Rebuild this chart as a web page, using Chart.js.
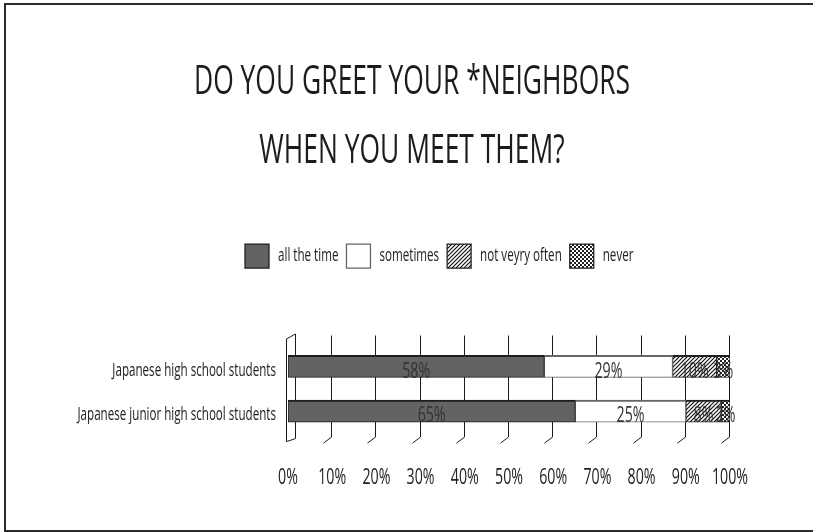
<!DOCTYPE html>
<html>
<head>
<meta charset="utf-8">
<title>Do you greet your neighbors</title>
<script src="https://cdn.jsdelivr.net/npm/chart.js@4.4.1/dist/chart.umd.min.js"></script>
<style>
  html, body { margin: 0; padding: 0; background: #fff; overflow: hidden; }
  #frame {
    position: absolute; left: 4px; top: 3px; width: 900px; height: 525px;
    border: 2px solid #2b2b2b; pointer-events: none;
  }
  #wrap { position: absolute; left: 0; top: 0; width: 813px; height: 532px; }
</style>
</head>
<body>
<div id="wrap"><canvas id="greetChart"></canvas></div>
<div id="frame"></div>
<script>
// data
const groups = ["Japanese high school students", "Japanese junior high school students"];
const answers = ["all the time", "sometimes", "not veyry often", "never"];
const allTheTime = [58, 65];
const sometimes = [29, 25];
const notVeryOften = [10, 8];
const never = [3, 2];
const tickValues = [0, 10, 20, 30, 40, 50, 60, 70, 80, 90, 100];

const FONT = "'Open Sans', 'Noto Sans', sans-serif";
const SQUEEZE = 0.645; // the original uses a very narrow face

// ---- fill patterns for the two hatched series ----
function makePattern(draw, size) {
  const c = document.createElement("canvas");
  c.width = size;
  c.height = size;
  const g = c.getContext("2d");
  g.fillStyle = "#fff";
  g.fillRect(0, 0, size, size);
  draw(g, size);
  return g.createPattern(c, "repeat");
}

const hatch = makePattern((g, s) => {
  g.strokeStyle = "#111";
  g.lineWidth = 1.2;
  g.beginPath();
  g.moveTo(-1, s + 1); g.lineTo(s + 1, -1);
  g.moveTo(-1, 1); g.lineTo(1, -1);
  g.moveTo(s - 1, s + 1); g.lineTo(s + 1, s - 1);
  g.stroke();
}, 4);

const checker = makePattern((g) => {
  g.fillStyle = "#222";
  g.fillRect(0, 0, 2, 2);
  g.fillRect(2, 2, 2, 2);
}, 4);

// ---- condensed text: squeeze every string the chart writes ----
const canvas = document.getElementById("greetChart");
const ctx = canvas.getContext("2d");
const origFill = ctx.fillText.bind(ctx);
const origMeasure = ctx.measureText.bind(ctx);
ctx.fillText = function (text, x, y) {
  ctx.save();
  ctx.translate(x, y);
  ctx.scale(SQUEEZE, 1);
  origFill(text, 0, 0);
  ctx.restore();
};
ctx.measureText = function (text) {
  const m = origMeasure(text);
  return {
    width: m.width * SQUEEZE,
    actualBoundingBoxAscent: m.actualBoundingBoxAscent,
    actualBoundingBoxDescent: m.actualBoundingBoxDescent,
    actualBoundingBoxLeft: m.actualBoundingBoxLeft * SQUEEZE,
    actualBoundingBoxRight: m.actualBoundingBoxRight * SQUEEZE,
  };
};

// 3D-ish grid: back lines with a little floor slant, plus the left wall
const gridPlugin = {
  id: "grid3d",
  beforeDatasetsDraw(chart) {
    const { ctx, chartArea: a, scales: { x } } = chart;
    ctx.save();
    ctx.strokeStyle = "#1a1a1a";
    ctx.lineWidth = 1;
    ctx.beginPath();
    tickValues.forEach((v) => {
      const px = Math.round(x.getPixelForValue(v)) - 0.5;
      if (v === 0) {
        ctx.moveTo(px - 1, a.top - 5);
        ctx.lineTo(px - 1, a.bottom + 8);
        ctx.lineTo(px + 8, a.bottom + 5);
        ctx.moveTo(px - 1, a.top - 5);
        ctx.lineTo(px + 8, a.top - 10);
        ctx.lineTo(px + 8, a.bottom + 5);
      } else {
        ctx.moveTo(px, a.top - 8.5);
        ctx.lineTo(px, a.bottom + 3.5);
        ctx.lineTo(px - 8, a.bottom + 9.5);
      }
    });
    ctx.stroke();
    ctx.restore();
  },
};

// percent labels in the middle of each segment
const valueLabels = {
  id: "valueLabels",
  afterDatasetsDraw(chart) {
    const { ctx } = chart;
    ctx.save();
    ctx.font = `22px ${FONT}`;
    ctx.fillStyle = "#333";
    ctx.textAlign = "center";
    ctx.textBaseline = "middle";
    chart.data.datasets.forEach((ds, i) => {
      chart.getDatasetMeta(i).data.forEach((bar, j) => {
        ctx.fillText(ds.data[j] + "%", (bar.x + bar.base) / 2, bar.y + 5);
      });
    });
    ctx.restore();
  },
};

// title and legend are not centred on the plot in the original
const boxSpots = {
  id: "boxSpots",
  afterLayout(chart) {
    const t = chart.titleBlock;
    const tx = 412 - (t.left + t.right) / 2;
    t.left += tx; t.right += tx;

    const lg = chart.legend;
    const dx = 237 - lg.left;
    const dy = 236 - lg.top;
    lg.left += dx; lg.right += dx;
    lg.top += dy; lg.bottom += dy;
  },
};

// thicker top edge stands in for the bar's 3D top face
const edge = { top: 2, bottom: 1, left: 1, right: 1 };

new Chart(ctx, {
  type: "bar",
  data: {
    labels: groups,
    datasets: [
      { label: answers[0], data: allTheTime, backgroundColor: "#636363", borderColor: "#1e1e1e", borderWidth: edge },
      { label: answers[1], data: sometimes, backgroundColor: "#ffffff", borderColor: "#666", borderWidth: edge },
      { label: answers[2], data: notVeryOften, backgroundColor: hatch, borderColor: "#1e1e1e", borderWidth: edge },
      { label: answers[3], data: never, backgroundColor: checker, borderColor: "#1e1e1e", borderWidth: edge },
    ],
  },
  options: {
    indexAxis: "y",
    responsive: true,
    maintainAspectRatio: false,
    animation: false,
    datasets: { bar: { barThickness: 22, borderSkipped: false } },
    layout: { padding: { left: 0, right: 83, top: 0, bottom: 10 } },
    scales: {
      x: {
        stacked: true,
        min: 0,
        max: 100,
        grid: { display: false, drawTicks: false },
        border: { display: false },
        ticks: {
          stepSize: 10,
          padding: 31,
          color: "#222",
          font: { family: FONT, size: 22 },
          callback: (v) => v + "%",
        },
      },
      y: {
        stacked: true,
        grid: { display: false, drawTicks: false },
        border: { display: false },
        afterFit: (scale) => { scale.width = 288; },
        ticks: {
          padding: 12,
          labelOffset: 4,
          color: "#222",
          font: { family: FONT, size: 18 },
        },
      },
    },
    plugins: {
      title: {
        display: true,
        text: ["DO YOU GREET YOUR *NEIGHBORS", "WHEN YOU MEET THEM?"],
        color: "#1c1c1c",
        font: { family: FONT, size: 41, weight: "normal", lineHeight: 69 / 41 },
        padding: { top: 48, bottom: 116 },
      },
      legend: {
        display: true,
        position: "top",
        align: "start",
        labels: {
          boxWidth: 24,
          boxHeight: 24,
          padding: 8,
          color: "#222",
          font: { family: FONT, size: 18 },
        },
      },
      tooltip: { enabled: false },
    },
  },
  plugins: [gridPlugin, valueLabels, boxSpots],
});
</script>
</body>
</html>
